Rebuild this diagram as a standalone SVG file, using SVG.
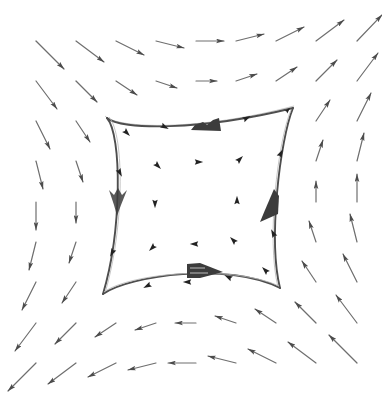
<svg xmlns="http://www.w3.org/2000/svg" width="382" height="394" viewBox="0 0 382 394">
<style>
.a{stroke:#6e6e6e;stroke-width:1.2;fill:none;marker-end:url(#ah);stroke-linecap:round}
.h{fill:#222}
.sq{fill:none;stroke:#4e4e4e;stroke-width:1.9;stroke-linecap:round}
.sq2{fill:none;stroke:#b8b8b8;stroke-width:0.8}
.b{fill:#3c3c3c}
</style>
<defs>
<marker id="ah" viewBox="0 0 10 6" refX="9.5" refY="3" markerWidth="8.5" markerHeight="5" orient="auto" markerUnits="userSpaceOnUse">
<path d="M0,0.2 L10,3 L0,5.8 L2,3 z" fill="#4c4c4c"/>
</marker>
<path id="sh" d="M-4.2,-2.7 L4.2,0 L-4.2,2.7 L-3,0 z"/>
</defs>
<rect width="382" height="394" fill="#fff"/>
<g id="field">
<line class="a" x1="36" y1="41" x2="64" y2="69"/>
<line class="a" x1="76" y1="41" x2="104" y2="62"/>
<line class="a" x1="116" y1="41" x2="144" y2="55"/>
<line class="a" x1="156" y1="41" x2="184" y2="48"/>
<line class="a" x1="196" y1="41" x2="224" y2="41"/>
<line class="a" x1="236" y1="41" x2="264" y2="34"/>
<line class="a" x1="276" y1="41" x2="304" y2="27"/>
<line class="a" x1="316" y1="41" x2="344" y2="20"/>
<line class="a" x1="357" y1="41" x2="382" y2="15"/>
<line class="a" x1="36" y1="81" x2="57" y2="109"/>
<line class="a" x1="76" y1="81" x2="97" y2="102"/>
<line class="a" x1="116" y1="81" x2="137" y2="95"/>
<line class="a" x1="156" y1="81" x2="177" y2="88"/>
<line class="a" x1="196" y1="81" x2="217" y2="81"/>
<line class="a" x1="236" y1="81" x2="257" y2="74"/>
<line class="a" x1="276" y1="81" x2="297" y2="67"/>
<line class="a" x1="316" y1="81" x2="337" y2="60"/>
<line class="a" x1="357" y1="81" x2="378" y2="53"/>
<line class="a" x1="36" y1="121" x2="50" y2="149"/>
<line class="a" x1="76" y1="121" x2="90" y2="142"/>
<line class="a" x1="316" y1="121" x2="330" y2="100"/>
<line class="a" x1="357" y1="121" x2="371" y2="93"/>
<line class="a" x1="36" y1="161" x2="43" y2="189"/>
<line class="a" x1="76" y1="161" x2="83" y2="182"/>
<line class="a" x1="316" y1="161" x2="323" y2="140"/>
<line class="a" x1="357" y1="161" x2="364" y2="133"/>
<line class="a" x1="36" y1="202" x2="36" y2="230"/>
<line class="a" x1="76" y1="202" x2="76" y2="223"/>
<line class="a" x1="316" y1="202" x2="316" y2="181"/>
<line class="a" x1="357" y1="202" x2="357" y2="174"/>
<line class="a" x1="36" y1="242" x2="29" y2="270"/>
<line class="a" x1="76" y1="242" x2="69" y2="263"/>
<line class="a" x1="316" y1="242" x2="309" y2="221"/>
<line class="a" x1="357" y1="242" x2="350" y2="214"/>
<line class="a" x1="36" y1="282" x2="22" y2="310"/>
<line class="a" x1="76" y1="282" x2="62" y2="303"/>
<line class="a" x1="316" y1="282" x2="302" y2="261"/>
<line class="a" x1="357" y1="282" x2="343" y2="254"/>
<line class="a" x1="36" y1="323" x2="15" y2="351"/>
<line class="a" x1="76" y1="323" x2="55" y2="344"/>
<line class="a" x1="116" y1="323" x2="95" y2="337"/>
<line class="a" x1="156" y1="323" x2="135" y2="330"/>
<line class="a" x1="196" y1="323" x2="175" y2="323"/>
<line class="a" x1="236" y1="323" x2="215" y2="316"/>
<line class="a" x1="276" y1="323" x2="255" y2="309"/>
<line class="a" x1="316" y1="323" x2="295" y2="302"/>
<line class="a" x1="357" y1="323" x2="336" y2="295"/>
<line class="a" x1="36" y1="363" x2="8" y2="391"/>
<line class="a" x1="76" y1="363" x2="48" y2="384"/>
<line class="a" x1="116" y1="363" x2="88" y2="377"/>
<line class="a" x1="156" y1="363" x2="128" y2="370"/>
<line class="a" x1="196" y1="363" x2="168" y2="363"/>
<line class="a" x1="236" y1="363" x2="208" y2="356"/>
<line class="a" x1="276" y1="363" x2="248" y2="349"/>
<line class="a" x1="316" y1="363" x2="288" y2="342"/>
<line class="a" x1="357" y1="363" x2="329" y2="335"/>
</g>
<g id="square">
<path class="sq2" d="M105,116 C118,129 200,131 294,106"/>
<path class="sq" d="M107,118 C120,130 200,131 293,108"/>
<path class="sq" d="M107,118 C122,135 122,230 103,294"/>
<path class="sq2" d="M109,117 C125,135 124,230 105,293"/>
<path class="sq" d="M293,108 C280,140 268,240 280,288"/>
<path class="sq2" d="M291,110 C278,140 266,240 278,287"/>
<path class="sq" d="M103,294 C130,275 230,262 280,288"/>
<path class="sq2" d="M104,292 C130,273 230,264 279,286"/>
<path class="b" d="M191,130 L195,125 L203,122 L207,125 L213,120 L219,118 L221,131 Z"/>
<path class="b" d="M109,190 L114,195 L118,188 L122,195 L127,190 L121,205 L117,216 L114,205 Z" fill-opacity="0.85"/>
<path class="b" d="M274,189 L279,196 L278,214 L260,222 L265,210 Z"/>
<path class="b" d="M187,264 L200,263 L223,272 L200,278 L187,278 Z"/>
<path d="M190,268 L205,268 M190,273 L208,273" stroke="#ddd" stroke-width="0.8"/>
</g>
<g id="inner" class="h">
<use href="#sh" transform="translate(127,133) rotate(45)"/>
<use href="#sh" transform="translate(165,127) rotate(27)"/>
<use href="#sh" transform="translate(247,118) rotate(-27)"/>
<use href="#sh" transform="translate(288,110) rotate(-45) scale(0.7)"/>
<use href="#sh" transform="translate(120,173) rotate(63)"/>
<use href="#sh" transform="translate(158,166) rotate(45)"/>
<use href="#sh" transform="translate(199,162) rotate(0)"/>
<use href="#sh" transform="translate(240,159) rotate(-45)"/>
<use href="#sh" transform="translate(281,153) rotate(-63)"/>
<use href="#sh" transform="translate(155,204) rotate(90)"/>
<use href="#sh" transform="translate(237,200) rotate(-90)"/>
<use href="#sh" transform="translate(112,253) rotate(117)"/>
<use href="#sh" transform="translate(152,248) rotate(135)"/>
<use href="#sh" transform="translate(194,244) rotate(180)"/>
<use href="#sh" transform="translate(233,240) rotate(-135)"/>
<use href="#sh" transform="translate(273,233) rotate(-117)"/>
<use href="#sh" transform="translate(147,286) rotate(153)"/>
<use href="#sh" transform="translate(187,282) rotate(180)"/>
<use href="#sh" transform="translate(228,277) rotate(-153)"/>
<use href="#sh" transform="translate(265,270) rotate(-135)"/>
</g>
</svg>
